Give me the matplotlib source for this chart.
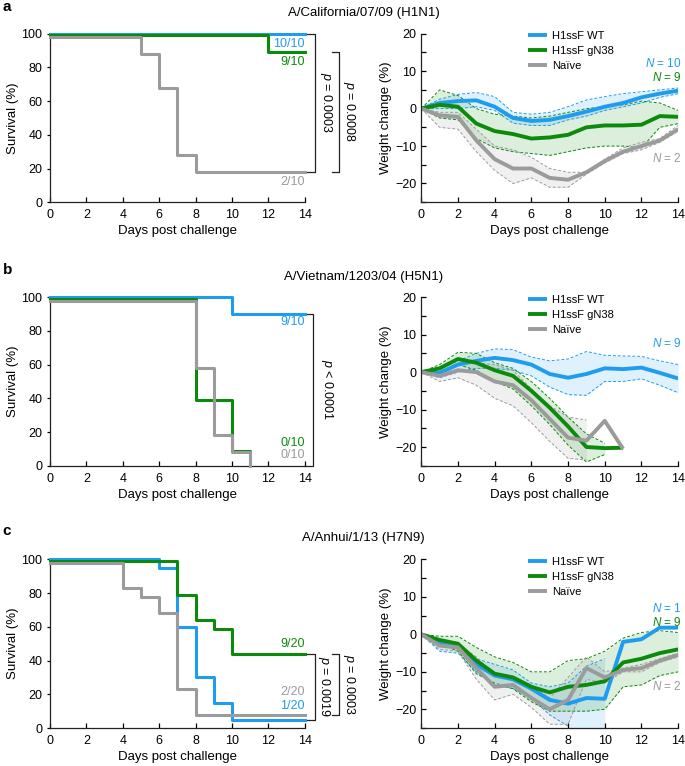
import matplotlib
matplotlib.use("Agg")
import matplotlib.pyplot as plt
from matplotlib.ticker import MultipleLocator

plt.rcParams["font.family"] = ["Liberation Sans", "DejaVu Sans"]
plt.rcParams["mathtext.fontset"] = "custom"
plt.rcParams["mathtext.it"] = "Liberation Sans:italic"
plt.rcParams["mathtext.rm"] = "Liberation Sans"

blue = "#1f9cf0"
green = "#0c8a0c"
gray = "#9b9b9b"

groups = ["H1ssF WT", "H1ssF gN38", "Naïve"]
titles = ["A/California/07/09 (H1N1)", "A/Vietnam/1203/04 (H5N1)", "A/Anhui/1/13 (H7N9)"]
days = list(range(15))

# survival (Kaplan-Meier steps): change days and percent alive
a_wt_t, a_wt_s = [0, 14], [100, 100]
a_g_t, a_g_s = [0, 12, 14], [100, 90, 90]
a_n_t, a_n_s = [0, 5, 6, 7, 8, 14], [100, 90, 70, 30, 20, 20]
b_wt_t, b_wt_s = [0, 10, 14], [100, 90, 90]
b_g_t, b_g_s = [0, 8, 10, 11], [100, 40, 10, 0]
b_n_t, b_n_s = [0, 8, 9, 10, 11], [100, 60, 20, 10, 0]
c_wt_t, c_wt_s = [0, 6, 7, 8, 9, 10, 14], [100, 95, 60, 30, 15, 5, 5]
c_g_t, c_g_s = [0, 7, 8, 9, 10, 14], [100, 80, 65, 60, 45, 45]
c_n_t, c_n_s = [0, 4, 5, 6, 7, 8, 14], [100, 85, 80, 70, 25, 10, 10]
a_counts = ["10/10", "9/10", "2/10"]
b_counts = ["9/10", "0/10", "0/10"]
c_counts = ["1/20", "9/20", "2/20"]

# weight change (%), mean and band limits
a_wt_mean = [0, 1.5, 2.0, 2.2, 0.5, -2.5, -3.3, -3.0, -2.0, -0.8, 0.5, 1.5, 3.0, 4.0, 4.8]
a_wt_hi = [0, 2.5, 3.8, 4.3, 3.2, -1.0, -1.5, -1.0, 0.5, 2.3, 3.2, 4.0, 4.5, 5.0, 5.5]
a_wt_lo = [0, 0.0, 0.0, 0.5, -0.5, -3.9, -4.5, -4.5, -3.0, -2.0, -0.5, 0.5, 1.5, 3.0, 4.0]
a_g_mean = [0, 1.0, 0.5, -4.0, -6.0, -6.8, -8.0, -7.7, -7.0, -5.0, -4.5, -4.5, -4.3, -2.0, -2.2]
a_g_hi = [0, 5.0, 3.5, 0.0, -1.5, -2.0, -2.5, -2.0, -1.0, 0.0, 0.5, 1.0, 2.0, 1.5, -0.5]
a_g_lo = [0, -2.5, -3.0, -8.0, -10.5, -11.5, -12.0, -12.5, -11.5, -10.5, -10.0, -10.0, -10.5, -5.0, -4.0]
a_n_mean = [0, -1.8, -2.2, -8.5, -13.5, -16.0, -16.0, -18.5, -19.0, -17.0, -14.0, -11.5, -10.0, -8.5, -5.5]
a_n_hi = [0, -1.0, -1.0, -5.5, -10.0, -11.0, -13.0, -16.0, -17.0, -17.0, -13.5, -10.5, -9.0, -8.0, -4.5]
a_n_lo = [0, -5.0, -5.5, -11.5, -16.5, -20.0, -18.5, -21.0, -21.0, -17.5, -14.5, -12.0, -11.0, -9.0, -6.0]

b_wt_mean = [0, -0.2, 2.0, 3.0, 3.8, 3.2, 2.0, -0.5, -1.5, -0.5, 1.0, 0.8, 1.2, -0.2, -1.7]
b_wt_hi = [0, 1.0, 3.0, 5.0, 6.2, 6.0, 4.0, 3.0, 3.5, 5.5, 4.5, 4.3, 4.2, 3.0, 2.0]
b_wt_lo = [0, -1.5, 0.0, 1.0, 1.0, 0.5, -1.0, -4.0, -6.0, -6.2, -2.5, -2.5, -1.8, -3.5, -5.5]
b_g_mean = [0, 1.0, 3.5, 2.5, 0.5, -1.0, -5.0, -9.5, -14.5, -20.0, -20.3, -20.2]
b_g_hi = [0, 2.0, 5.3, 5.0, 2.5, 1.0, -2.5, -7.0, -12.0, -16.5, -19.0]
b_g_lo = [0, 0.0, 2.0, 0.5, -2.5, -4.5, -9.0, -14.0, -19.5, -24.0, -22.0]
b_n_mean = [0, -1.0, 0.5, 0.0, -2.5, -3.5, -7.5, -12.5, -17.5, -18.3, -13.0, -20.5]
b_n_hi = [0, 0.0, 2.5, 2.5, 2.0, 0.5, -4.5, -9.0, -12.0, -12.8]
b_n_lo = [0, -2.5, -1.5, -3.5, -7.0, -9.0, -13.5, -18.5, -23.0, -23.5]

c_wt_mean = [0, -2.5, -3.5, -8.0, -11.0, -12.0, -14.5, -17.5, -18.5, -17.0, -17.2, -2.0, -1.3, 1.8, 1.8]
c_wt_hi = [0, -2.0, -2.5, -6.5, -8.0, -9.5, -13.0, -14.0, -13.0, -8.5, -6.5]
c_wt_lo = [0, -4.5, -5.0, -10.0, -13.5, -14.5, -17.0, -21.5, -24.5, -40.0, -40.0]
c_g_mean = [0, -1.5, -2.5, -7.0, -10.5, -11.5, -14.0, -15.5, -14.0, -13.5, -12.5, -7.5, -6.5, -5.0, -4.0]
c_g_hi = [0, -0.5, -0.5, -3.5, -6.0, -7.5, -10.0, -10.0, -7.0, -6.5, -4.5, -1.0, 0.5, 1.0, 0.5]
c_g_lo = [0, -2.5, -4.5, -10.5, -13.0, -14.5, -18.0, -20.5, -20.5, -20.5, -20.0, -14.0, -13.5, -11.0, -10.0]
c_n_mean = [0, -3.0, -3.5, -9.0, -14.0, -13.5, -17.0, -20.0, -17.5, -9.0, -11.5, -9.5, -9.0, -7.0, -5.5]
c_n_hi = [0, -2.0, -2.5, -6.0, -11.0, -11.5, -13.5, -17.0, -11.5, -6.0, -10.0, -9.0, -8.0, -6.5, -5.0]
c_n_lo = [0, -4.0, -4.5, -12.0, -17.5, -16.0, -19.5, -24.0, -24.0, -12.0, -13.0, -10.0, -10.0, -7.5, -6.0]

p_a = ["$p$ = 0.0003", "$p$ = 0.0008"]
p_b = ["$p$ < 0.0001"]
p_c = ["$p$ = 0.0019", "$p$ = 0.0003"]


def style_axes(ax):
    for s in ["top", "right"]:
        ax.spines[s].set_visible(False)
    for s in ["left", "bottom"]:
        ax.spines[s].set_linewidth(0.9)
        ax.spines[s].set_color("#222222")
    ax.tick_params(axis="x", direction="in", length=3.5, width=0.9, labelsize=9, pad=5)
    ax.tick_params(axis="y", which="both", direction="in", length=3.5, width=0.9, labelsize=9)
    ax.set_xlim(0, 14)
    ax.xaxis.set_major_locator(MultipleLocator(2))
    ax.set_xlabel("Days post challenge", fontsize=9.5, labelpad=3)


def survival(ax, curves, counts, count_y):
    # small vertical offsets keep overlapping curves visible
    offsets = [0, -1, -2]
    colors = [blue, green, gray]
    for (t, s), off, c in zip(curves, offsets, colors):
        ys = [v + off if v > 0 else 0 for v in s]
        ax.step(t, ys, where="post", color=c, lw=2.2, clip_on=False, zorder=3)
    for lab, y, c in zip(counts, count_y, colors):
        ax.text(14, y, lab, color=c, fontsize=9, ha="right", va="center")
    style_axes(ax)
    ax.set_ylim(0, 100)
    ax.yaxis.set_major_locator(MultipleLocator(20))
    ax.tick_params(axis="y", direction="out", length=2)
    ax.set_ylabel("Survival (%)", fontsize=9.5, labelpad=2)


def bracket(ax, x, y0, y1, x_tick, label, tx):
    ax.plot([x_tick, x, x, x_tick], [y0, y0, y1, y1], color="#222222", lw=0.9, clip_on=False)
    ax.text(tx, (y0 + y1) / 2, label, rotation=270, fontsize=9, ha="center", va="center")


def weight(ax, series, n_labels):
    colors = [blue, green, gray]
    for (m, lo, hi), c in zip(series, colors):
        d = days[:len(lo)]
        ax.fill_between(d, lo, hi, color=c, alpha=0.14, lw=0)
        ax.plot(d, lo, color=c, lw=0.7, ls=(0, (3, 2)))
        ax.plot(d, hi, color=c, lw=0.7, ls=(0, (3, 2)))
    for (m, lo, hi), c, lab in zip(series, colors, groups):
        ax.plot(days[:len(m)], m, color=c, lw=2.8, label=lab, solid_capstyle="butt")
    for txt, y, c in n_labels:
        ax.text(14.2, y, txt, color=c, fontsize=8.5, ha="right", va="center")
    style_axes(ax)
    ax.set_ylim(-25, 20)
    ax.yaxis.set_major_locator(MultipleLocator(10))
    ax.yaxis.set_minor_locator(MultipleLocator(5))
    ax.set_ylabel("Weight change (%)", fontsize=9.5, labelpad=2)
    ax.legend(loc="upper left", bbox_to_anchor=(0.415, 1.015), frameon=False, fontsize=8,
              handlelength=1.7, handletextpad=0.5, labelspacing=0.45, borderpad=0, borderaxespad=0)


fig = plt.figure(figsize=(6.85, 7.66), dpi=100)

left_x, left_w = 0.073, 0.372
right_x, right_w = 0.615, 0.375
bottoms = [0.736, 0.392, 0.0496]
h = 0.220

ax_a1 = fig.add_axes([left_x, bottoms[0], left_w, h])
ax_a2 = fig.add_axes([right_x, bottoms[0], right_w, h])
ax_b1 = fig.add_axes([left_x, bottoms[1], left_w, h])
ax_b2 = fig.add_axes([right_x, bottoms[1], right_w, h])
ax_c1 = fig.add_axes([left_x, bottoms[2], left_w, h])
ax_c2 = fig.add_axes([right_x, bottoms[2], right_w, h])

survival(ax_a1, [(a_wt_t, a_wt_s), (a_g_t, a_g_s), (a_n_t, a_n_s)], a_counts, [94, 83.5, 12])
bracket(ax_a1, 14.55, 100, 18, 14.0, p_a[0], 15.15)
bracket(ax_a1, 15.87, 89, 18, 15.5, p_a[1], 16.45)

survival(ax_b1, [(b_wt_t, b_wt_s), (b_g_t, b_g_s), (b_n_t, b_n_s)], b_counts, [85, 13.7, 6.5])
bracket(ax_b1, 14.45, 90, 0, 14.0, p_b[0], 15.2)

survival(ax_c1, [(c_wt_t, c_wt_s), (c_g_t, c_g_s), (c_n_t, c_n_s)], c_counts, [13, 50, 21.5])
bracket(ax_c1, 14.55, 44, 5, 14.0, p_c[0], 15.05)
bracket(ax_c1, 15.87, 44, 8, 15.5, p_c[1], 16.45)

weight(ax_a2, [(a_wt_mean, a_wt_lo, a_wt_hi), (a_g_mean, a_g_lo, a_g_hi), (a_n_mean, a_n_lo, a_n_hi)],
       [("$N$ = 10", 12.0, blue), ("$N$ = 9", 8.3, green), ("$N$ = 2", -13.2, gray)])
weight(ax_b2, [(b_wt_mean, b_wt_lo, b_wt_hi), (b_g_mean, b_g_lo, b_g_hi), (b_n_mean, b_n_lo, b_n_hi)],
       [("$N$ = 9", 7.6, blue)])
weight(ax_c2, [(c_wt_mean, c_wt_lo, c_wt_hi), (c_g_mean, c_g_lo, c_g_hi), (c_n_mean, c_n_lo, c_n_hi)],
       [("$N$ = 1", 6.8, blue), ("$N$ = 9", 3.3, green), ("$N$ = 2", -13.9, gray)])

for title, y in zip(titles, [0.983, 0.638, 0.297]):
    fig.text(0.531, y, title, fontsize=9.5, ha="center", va="center")
for letter, y in zip(["a", "b", "c"], [0.991, 0.648, 0.307]):
    fig.text(0.004, y, letter, fontsize=11, fontweight="bold", ha="left", va="center")

fig.savefig("out.png", dpi=100)
